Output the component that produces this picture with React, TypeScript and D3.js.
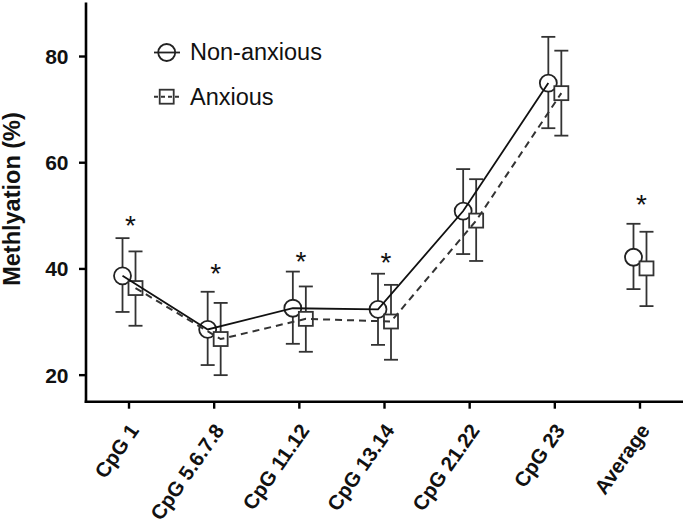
import React from "react";
import * as d3 from "d3";

const categories = ["CpG 1", "CpG 5.6.7.8", "CpG 11.12", "CpG 13.14", "CpG 21.22", "CpG 23", "Average"];
const nonAnxiousMean = [38.7, 28.6, 32.6, 32.4, 50.9, 75.0, 42.2];
const nonAnxiousUpper = [45.8, 35.7, 39.5, 39.1, 58.8, 83.7, 48.5];
const nonAnxiousLower = [31.9, 21.9, 25.9, 25.7, 42.8, 66.5, 36.2];
const anxiousMean = [36.4, 26.8, 30.6, 30.1, 49.1, 73.1, 40.1];
const anxiousUpper = [43.3, 33.6, 36.7, 37.0, 56.9, 81.1, 47.0];
const anxiousLower = [29.3, 20.0, 24.4, 22.9, 41.5, 65.1, 33.0];
const starCategories = ["CpG 1", "CpG 5.6.7.8", "CpG 11.12", "CpG 13.14", "Average"];
const starValues = [49.4, 40.4, 42.7, 42.5, 53.3];
const yTicks = [20, 40, 60, 80];
const legendLabels = ["Non-anxious", "Anxious"];
const connectedCount = 6;

const W = 687;
const H = 526;
const left = 86;
const right = 683;
const top = 3.4;
const bottom = 401.7;

export default function App() {
  const x = d3.scalePoint<string>().domain(categories).range([left, right]).padding(0.505);
  const y = d3.scaleLinear().domain([15, 90]).range([bottom, top]);
  const offC = -6.5;
  const offS = 6.5;
  const font = "'Liberation Sans', Arial, Helvetica, sans-serif";

  const nonLine = d3
    .line<number>()
    .x((_, i) => x(categories[i])! + offC)
    .y((d) => y(d))(nonAnxiousMean.slice(0, connectedCount));
  const anxLine = d3
    .line<number>()
    .x((_, i) => x(categories[i])! + offS)
    .y((d) => y(d))(anxiousMean.slice(0, connectedCount));

  const capW = 7;
  const errBars = (mean: number[], lo: number[], hi: number[], off: number, key: string) =>
    mean.map((_, i) => {
      const cx = x(categories[i])! + off;
      return (
        <g key={key + i} stroke="#333" strokeWidth={1.8} fill="none">
          <line x1={cx} x2={cx} y1={y(hi[i])} y2={y(lo[i])} />
          <line x1={cx - capW} x2={cx + capW} y1={y(hi[i])} y2={y(hi[i])} />
          <line x1={cx - capW} x2={cx + capW} y1={y(lo[i])} y2={y(lo[i])} />
        </g>
      );
    });

  const sq = 14;

  return (
    <svg width={W} height={H} style={{ position: "absolute", left: 0, top: 0, background: "#fff" }} fontFamily={font}>
      {/* axes */}
      <line x1={left} x2={left} y1={top - 1} y2={bottom + 1.3} stroke="#000" strokeWidth={2.6} />
      <line x1={left - 1.3} x2={right} y1={bottom} y2={bottom} stroke="#000" strokeWidth={2.6} />
      {yTicks.map((t) => (
        <g key={"yt" + t}>
          <line x1={left - 7} x2={left} y1={y(t)} y2={y(t)} stroke="#000" strokeWidth={2.4} />
          <text x={68.5} y={y(t)} dy="0.36em" textAnchor="end" fontSize={21} fontWeight="bold" fill="#111">
            {t}
          </text>
        </g>
      ))}
      {categories.map((c) => (
        <g key={"xt" + c}>
          <line x1={x(c)!} x2={x(c)!} y1={bottom} y2={bottom + 7} stroke="#000" strokeWidth={2.4} />
          <text
            transform={`translate(${x(c)! + 5},${bottom + 24.5}) rotate(-55)`}
            textAnchor="end"
            fontSize={20.5}
            fontWeight="bold"
            fill="#111"
            dy="0.35em"
          >
            {c}
          </text>
        </g>
      ))}
      <text
        transform={`translate(20,199) rotate(-90)`}
        textAnchor="middle"
        fontSize={23.5}
        fontWeight="bold"
        fill="#111"
      >
        Methlyation (%)
      </text>

      {/* error bars */}
      {errBars(nonAnxiousMean, nonAnxiousLower, nonAnxiousUpper, offC, "ne")}
      {errBars(anxiousMean, anxiousLower, anxiousUpper, offS, "ae")}

      {/* markers */}
      {nonAnxiousMean.map((v, i) => (
        <circle key={"c" + i} cx={x(categories[i])! + offC} cy={y(v)} r={8.5} fill="#fff" stroke="#222" strokeWidth={1.8} />
      ))}
      {anxiousMean.map((v, i) => (
        <rect
          key={"s" + i}
          x={x(categories[i])! + offS - sq / 2}
          y={y(v) - sq / 2}
          width={sq}
          height={sq}
          fill="#fff"
          stroke="#333"
          strokeWidth={1.8}
        />
      ))}

      {/* lines */}
      <path d={nonLine!} fill="none" stroke="#111" strokeWidth={1.8} />
      <path d={anxLine!} fill="none" stroke="#333" strokeWidth={2} strokeDasharray="7,5" />

      {/* stars */}
      {starCategories.map((c, i) => (
        <text key={"st" + c} x={x(c)! + 1.5} y={y(starValues[i])} dy="0.575em" textAnchor="middle" fontSize={28} fill="#111">
          *
        </text>
      ))}

      {/* legend */}
      <g>
        <line x1={154} x2={180} y1={52.5} y2={52.5} stroke="#222" strokeWidth={1.8} />
        <circle cx={166.7} cy={52.5} r={8.5} fill="none" stroke="#222" strokeWidth={1.8} />
        <text x={190} y={60} fontSize={23.5} fill="#111">
          {legendLabels[0]}
        </text>
        <line x1={154} x2={179} y1={96.7} y2={96.7} stroke="#333" strokeWidth={2} strokeDasharray="4,3" />
        <rect x={166.7 - sq / 2} y={96.7 - sq / 2} width={sq} height={sq} fill="none" stroke="#333" strokeWidth={1.8} />
        <text x={190} y={104.5} fontSize={23.5} fill="#111">
          {legendLabels[1]}
        </text>
      </g>
    </svg>
  );
}
